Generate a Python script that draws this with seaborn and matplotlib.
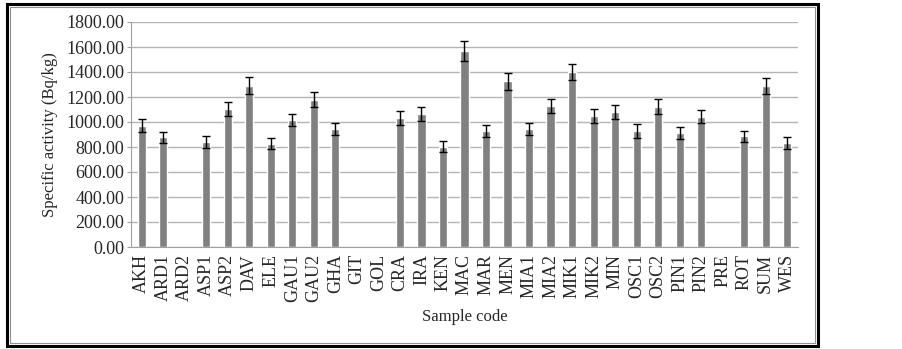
import numpy as np
import pandas as pd
import seaborn as sns
import matplotlib.pyplot as plt
from matplotlib.patches import Rectangle

codes = ["AKH", "ARD1", "ARD2", "ASP1", "ASP2", "DAV", "ELE", "GAU1", "GAU2", "GHA",
         "GIT", "GOL", "CRA", "IRA", "KEN", "MAC", "MAR", "MEN", "MIA1", "MIA2",
         "MIK1", "MIK2", "MIN", "OSC1", "OSC2", "PIN1", "PIN2", "PRE", "ROT", "SUM", "WES"]
activity = [972, 878, np.nan, 841, 1105, 1292, 828, 1015, 1180, 945,
            np.nan, np.nan, 1030, 1066, 803, 1570, 927, 1325, 945, 1130,
            1400, 1047, 1079, 929, 1122, 913, 1042, np.nan, 887, 1287, 833]
err = [50, 45, np.nan, 45, 57, 65, 47, 50, 58, 48,
       np.nan, np.nan, 55, 56, 45, 78, 48, 70, 48, 58,
       67, 58, 58, 53, 61, 51, 53, np.nan, 45, 64, 48]

df = pd.DataFrame({"code": codes, "activity": activity, "err": err})

sns.set_style("white")
plt.rcParams['font.family'] = ['Liberation Serif', 'DejaVu Serif']

fig = plt.figure(figsize=(9.03, 3.49), dpi=100)
ax = fig.add_axes([131 / 903, 1 - 247 / 349, (798 - 131) / 903, (247 - 22) / 349])

sns.barplot(x="code", y="activity", data=df, order=codes, color="#808080",
            saturation=1, width=0.38, errorbar=None, ax=ax)
ax.errorbar(np.arange(len(codes)), df["activity"], yerr=df["err"], fmt="none",
            ecolor="black", elinewidth=1, capsize=3.2, capthick=1)

ax.set_ylim(0, 1800)
ax.set_xlim(-0.5, len(codes) - 0.5)
ax.set_yticks(np.arange(0, 1801, 200))
ax.set_yticklabels([f"{v:.2f}" for v in np.arange(0, 1801, 200)], fontsize=13)
ax.tick_params(axis="x", labelrotation=90, labelsize=13, length=0, pad=5)
ax.tick_params(axis="y", length=3, color="#a0a0a0", pad=2, left=True)
ax.yaxis.grid(True, color="#b4b4b4", linewidth=1)
ax.set_axisbelow(True)
for s in ["top", "right"]:
    ax.spines[s].set_visible(False)
ax.spines["left"].set_color("#a0a0a0")
ax.spines["bottom"].set_color("#a0a0a0")
ax.set_ylabel("Specific activity (Bq/kg)", fontsize=12, labelpad=6)
ax.set_xlabel("Sample code", fontsize=12, labelpad=5)

fig.patches.append(Rectangle((7 / 903, 1 - 346 / 349), 811 / 903, 342 / 349,
                             transform=fig.transFigure, fill=False,
                             edgecolor="black", linewidth=2.2))
fig.patches.append(Rectangle((10 / 903, 1 - 343 / 349), 805 / 903, 336 / 349,
                             transform=fig.transFigure, fill=False,
                             edgecolor="#909090", linewidth=0.8))

fig.savefig("out.png", dpi=100)
